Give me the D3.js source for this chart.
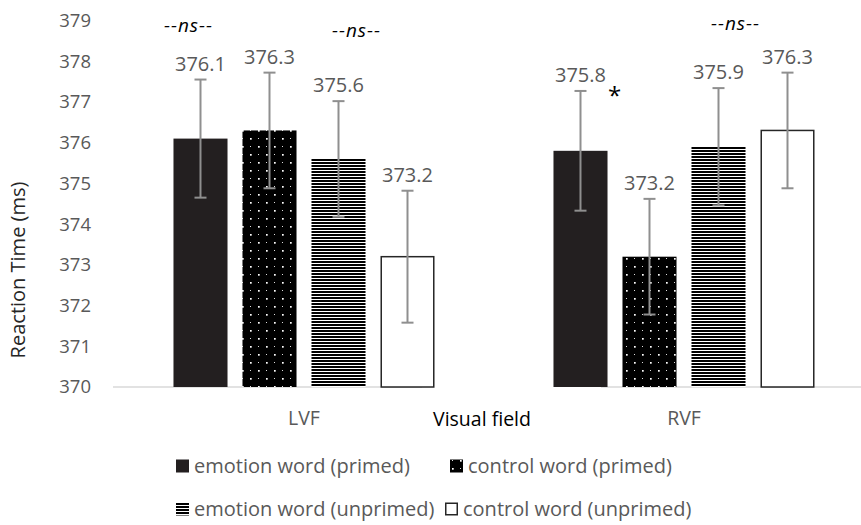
<!DOCTYPE html>
<html>
<head>
<meta charset="utf-8">
<script src="https://cdn.jsdelivr.net/npm/d3@7"></script>
<style>
  body { margin: 0; background: #fff; }
  text { font-family: "Open Sans", sans-serif; }
</style>
</head>
<body>
<script>
// Chart data
var fields = ["LVF", "RVF"];
var conditions = ["emotion word (primed)", "control word (primed)",
                  "emotion word (unprimed)", "control word (unprimed)"];
var meansLVF = [376.1, 376.3, 375.6, 373.2];
var meansRVF = [375.8, 373.2, 375.9, 376.3];
var errLVF = [1.45, 1.42, 1.42, 1.62];
var errRVF = [1.47, 1.42, 1.44, 1.42];
var yTicks = [370, 371, 372, 373, 374, 375, 376, 377, 378, 379];

// significance marks: group, bar index, pixel shift, height in ms
var notes = [
  {text: "--ns--", field: "LVF", bar: 0, dx: -12, v: 378.72, italic: true},
  {text: "--ns--", field: "LVF", bar: 2, dx: 18, v: 378.6, italic: true},
  {text: "--ns--", field: "RVF", bar: 2, dx: 17, v: 378.77, italic: true},
  {text: "*", field: "RVF", bar: 0, dx: 34, v: 376.95, italic: false}
];

var width = 861;
var height = 525;

var rows = [];
fields.forEach(function (f, gi) {
  var m = gi == 0 ? meansLVF : meansRVF;
  var e = gi == 0 ? errLVF : errRVF;
  conditions.forEach(function (c, i) {
    rows.push({field: f, cond: c, idx: i, value: m[i], err: e[i]});
  });
});

var svg = d3.select("body").append("svg")
  .attr("width", width)
  .attr("height", height);

// fill patterns for the four conditions
var defs = svg.append("defs");

var dots = defs.append("pattern").attr("id", "dots")
  .attr("patternUnits", "userSpaceOnUse")
  .attr("width", 16).attr("height", 16);
dots.append("rect").attr("width", 16).attr("height", 16).attr("fill", "#000");
[[2, 2, 1.7, "#fff"], [10, 10, 1.7, "#fff"], [10, 2, 1, "#ddd"], [2, 10, 1, "#ddd"]].forEach(function (p) {
  dots.append("rect").attr("x", p[0]).attr("y", p[1])
    .attr("width", p[2]).attr("height", p[2]).attr("fill", p[3]);
});

var stripes = defs.append("pattern").attr("id", "stripes")
  .attr("patternUnits", "userSpaceOnUse")
  .attr("width", 4).attr("height", 3);
stripes.append("rect").attr("width", 4).attr("height", 3).attr("fill", "#fff");
stripes.append("rect").attr("width", 4).attr("height", 2).attr("fill", "#000");

var fills = ["#231f20", "url(#dots)", "url(#stripes)", "#fff"];
var strokes = ["none", "none", "none", "#262626"];

// scales
var y = d3.scaleLinear().domain([370, 379]).range([387, 20.5]);
var x0 = d3.scaleBand().domain(fields).range([114, 874]);
var x1 = d3.scaleBand().domain(conditions)
  .range([0, x0.bandwidth()])
  .paddingInner(0.217)
  .paddingOuter(0.862);

// y axis labels
var yAxis = svg.append("g")
  .attr("transform", "translate(100,0)")
  .call(d3.axisLeft(y).tickValues(yTicks).tickSize(0).tickPadding(9).tickFormat(d3.format("d")));
yAxis.select(".domain").remove();
yAxis.selectAll("text")
  .attr("fill", "#595959")
  .style("font-size", "18.5px")
  .style("font-family", "'Open Sans', sans-serif");

svg.append("text")
  .attr("transform", "translate(25,270) rotate(-90)")
  .attr("text-anchor", "middle")
  .attr("fill", "#262626")
  .style("font-size", "20px")
  .text("Reaction Time (ms)");

// baseline (the figure has a gap under the middle)
var base = y(370);
[[113, 422], [601, 861]].forEach(function (s) {
  svg.append("line")
    .attr("x1", s[0]).attr("x2", s[1])
    .attr("y1", base).attr("y2", base)
    .attr("stroke", "#d9d9d9").attr("stroke-width", 1.6);
});

// bars
var barX = function (d) { return x0(d.field) + x1(d.cond); };
svg.append("g").selectAll("rect")
  .data(rows)
  .enter().append("rect")
  .attr("x", function (d) { return barX(d) + (d.idx == 3 ? 0.75 : 0); })
  .attr("y", function (d) { return y(d.value); })
  .attr("width", function (d) { return x1.bandwidth() - (d.idx == 3 ? 1.5 : 0); })
  .attr("height", function (d) { return base - y(d.value); })
  .attr("fill", function (d) { return fills[d.idx]; })
  .attr("stroke", function (d) { return strokes[d.idx]; })
  .attr("stroke-width", 1.5);

// error bars
var eb = svg.append("g").selectAll("g")
  .data(rows)
  .enter().append("g")
  .attr("stroke", "#8f8f8f")
  .attr("stroke-width", 2);
eb.append("line")
  .attr("x1", function (d) { return barX(d) + x1.bandwidth() / 2; })
  .attr("x2", function (d) { return barX(d) + x1.bandwidth() / 2; })
  .attr("y1", function (d) { return y(d.value + d.err); })
  .attr("y2", function (d) { return y(d.value - d.err); });
[1, -1].forEach(function (sign) {
  eb.append("line")
    .attr("x1", function (d) { return barX(d) + x1.bandwidth() / 2 - 6; })
    .attr("x2", function (d) { return barX(d) + x1.bandwidth() / 2 + 6; })
    .attr("y1", function (d) { return y(d.value + sign * d.err); })
    .attr("y2", function (d) { return y(d.value + sign * d.err); });
});

// value labels above the error bars
svg.append("g").selectAll("text")
  .data(rows)
  .enter().append("text")
  .attr("x", function (d) { return barX(d) + x1.bandwidth() / 2; })
  .attr("y", function (d) { return y(d.value + d.err) - 9; })
  .attr("text-anchor", "middle")
  .attr("fill", "#595959")
  .style("font-size", "20px")
  .text(function (d) { return d.value.toFixed(1); });

// significance notes
svg.append("g").selectAll("text")
  .data(notes)
  .enter().append("text")
  .attr("x", function (d) { return x0(d.field) + x1(conditions[d.bar]) + x1.bandwidth() / 2 + d.dx; })
  .attr("y", function (d) { return y(d.v); })
  .attr("text-anchor", "middle")
  .attr("fill", "#000")
  .style("font-style", function (d) { return d.italic ? "italic" : "normal"; })
  .style("font-size", function (d) { return d.italic ? "19px" : "24px"; })
  .style("letter-spacing", function (d) { return d.italic ? "1px" : "0"; })
  .text(function (d) { return d.text; });

// category labels
svg.append("g").selectAll("text")
  .data(fields)
  .enter().append("text")
  .attr("x", function (d) { return x0(d) + x0.bandwidth() / 2; })
  .attr("y", 425)
  .attr("text-anchor", "middle")
  .attr("fill", "#595959")
  .style("font-size", "19.5px")
  .text(function (d) { return d; });

svg.append("text")
  .attr("x", 482).attr("y", 426)
  .attr("text-anchor", "middle")
  .attr("fill", "#000")
  .style("font-size", "19.5px")
  .text("Visual field");

// legend
var legendX = [176, 450, 176, 445];
var legendY = [466, 466, 509, 509];
var legend = svg.append("g").selectAll("g")
  .data(conditions)
  .enter().append("g")
  .attr("transform", function (d, i) { return "translate(" + legendX[i] + "," + legendY[i] + ")"; });
legend.append("rect")
  .attr("x", function (d, i) { return i == 3 ? 0.75 : 0; })
  .attr("y", function (d, i) { return i == 3 ? -5.75 : -6.5; })
  .attr("width", function (d, i) { return i == 3 ? 11.5 : 13; })
  .attr("height", function (d, i) { return i == 3 ? 11.5 : 13; })
  .attr("fill", function (d, i) { return fills[i]; })
  .attr("stroke", function (d, i) { return strokes[i]; })
  .attr("stroke-width", 1.5);
legend.append("text")
  .attr("x", 18)
  .attr("y", 7)
  .attr("fill", "#595959")
  .style("font-size", "20px")
  .text(function (d) { return d; });
</script>
</body>
</html>
